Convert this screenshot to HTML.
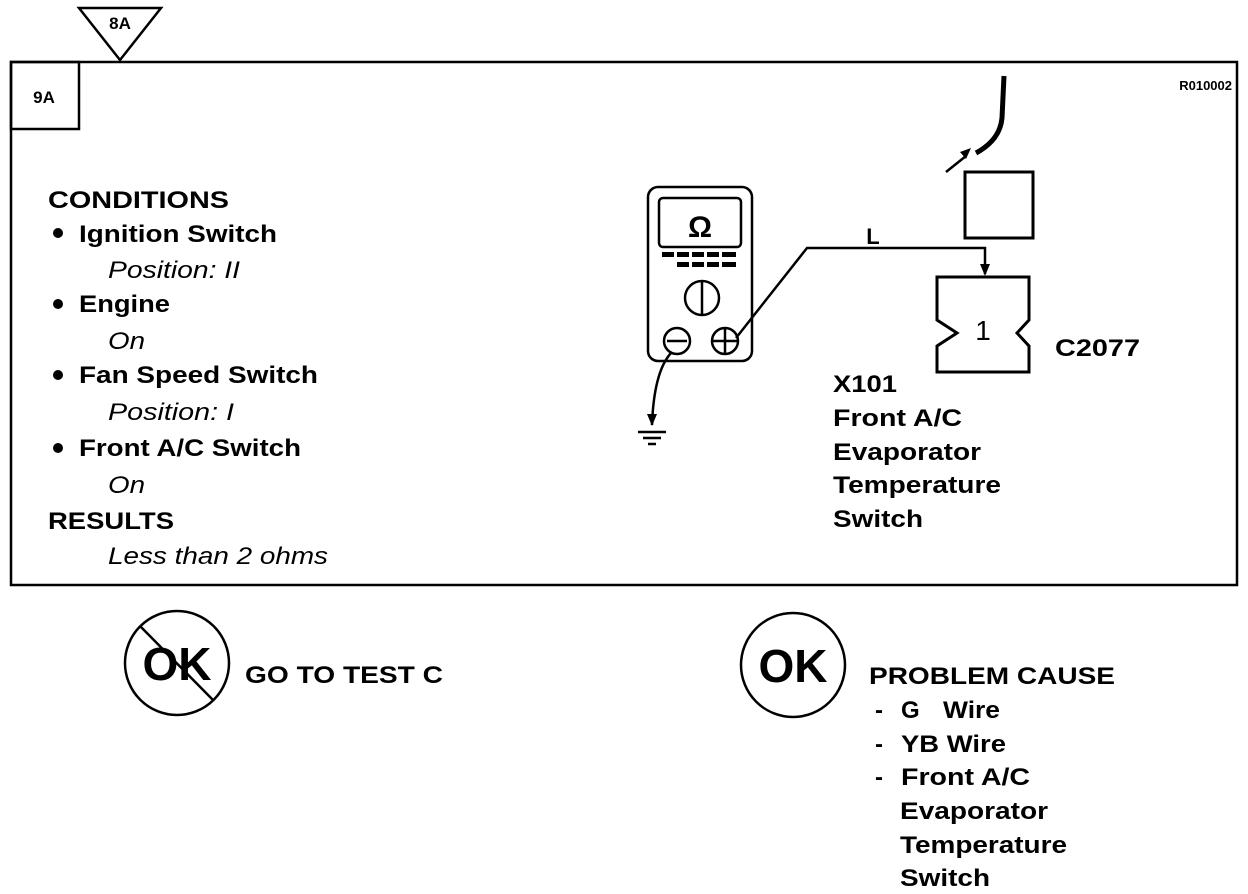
<!DOCTYPE html>
<html><head><style>body{margin:0;background:#fff}svg{display:block}text{font-family:"Liberation Sans",Arial,sans-serif;fill:#000}.b{font-weight:bold}.i{font-style:italic;font-weight:normal}</style></head><body>
<svg width="1248" height="894" viewBox="0 0 1248 894" xmlns="http://www.w3.org/2000/svg">
<g fill="none" stroke="#000" stroke-width="2.5">
<rect x="11" y="62" width="1226" height="523"/>
<rect x="11" y="62" width="68" height="67"/>
<polygon points="79,8 161,8 120,60" fill="#fff"/>
<rect x="648" y="187" width="104" height="174" rx="10"/>
<rect x="659" y="198" width="82" height="49" rx="4"/>
<circle cx="702" cy="298" r="17"/><line x1="702" y1="282" x2="702" y2="314"/>
<circle cx="677" cy="341" r="13"/><line x1="667" y1="341" x2="687" y2="341"/>
<circle cx="725" cy="341" r="13"/><line x1="712" y1="341" x2="738" y2="341"/><line x1="725" y1="328" x2="725" y2="354"/>
<path d="M736,338 L807,248 L985,248 L985,274"/>
<path d="M672,352 Q654,370 652,425"/>
<line x1="638" y1="432" x2="666" y2="432"/><line x1="643" y1="438" x2="661" y2="438"/><line x1="648" y1="444" x2="656" y2="444"/>
<path d="M937,277 L1029,277 L1029,320 L1017,333 L1029,346 L1029,372 L937,372 L937,346 L957,333 L937,320 Z" stroke-width="3"/>
<rect x="965" y="172" width="68" height="66" stroke-width="3"/>
<path d="M1004,76 L1002,118 Q1000,140 976,153" stroke-width="5"/>
<line x1="946" y1="172" x2="966" y2="156"/>
<circle cx="177" cy="663" r="52"/><line x1="140" y1="626" x2="213" y2="700"/>
<circle cx="793" cy="665" r="52"/>
</g>
<g fill="#000">
<polygon points="960,152 971,148 966,159"/>
<polygon points="980,264 990,264 985,276"/>
<polygon points="647,414 657,414 652,426"/>
<rect x="662" y="252" width="12" height="5"/><rect x="677" y="252" width="12" height="5"/><rect x="692" y="252" width="12" height="5"/><rect x="707" y="252" width="12" height="5"/><rect x="722" y="252" width="14" height="5"/>
<rect x="677" y="262" width="12" height="5"/><rect x="692" y="262" width="12" height="5"/><rect x="707" y="262" width="12" height="5"/><rect x="722" y="262" width="14" height="5"/>
<circle cx="58" cy="233" r="5"/><circle cx="58" cy="304" r="5"/><circle cx="58" cy="375" r="5"/><circle cx="58" cy="448" r="5"/>
</g>
<text class="b" x="120" y="29" font-size="17" text-anchor="middle">8A</text>
<text class="b" x="44" y="103" font-size="17" text-anchor="middle">9A</text>
<text class="b" x="1232" y="90" font-size="13" text-anchor="end">R010002</text>
<text class="b" x="700" y="237" font-size="30" text-anchor="middle">Ω</text>
<text class="b" x="873" y="244" font-size="22" text-anchor="middle">L</text>
<text x="983" y="340" font-size="28" text-anchor="middle">1</text>
<g font-size="24" lengthAdjust="spacingAndGlyphs">
<text class="b" x="1055" y="356" textLength="85" lengthAdjust="spacingAndGlyphs">C2077</text>
<text class="b" x="833" y="392" textLength="64" lengthAdjust="spacingAndGlyphs">X101</text>
<text class="b" x="833" y="426" textLength="129" lengthAdjust="spacingAndGlyphs">Front A/C</text>
<text class="b" x="833" y="460" textLength="148" lengthAdjust="spacingAndGlyphs">Evaporator</text>
<text class="b" x="833" y="493" textLength="168" lengthAdjust="spacingAndGlyphs">Temperature</text>
<text class="b" x="833" y="527" textLength="90" lengthAdjust="spacingAndGlyphs">Switch</text>
<text class="b" x="48" y="208" textLength="181" lengthAdjust="spacingAndGlyphs">CONDITIONS</text>
<text class="b" x="79" y="242" textLength="198" lengthAdjust="spacingAndGlyphs">Ignition Switch</text>
<text class="i" x="108" y="278" textLength="132" lengthAdjust="spacingAndGlyphs">Position: II</text>
<text class="b" x="79" y="312" textLength="91" lengthAdjust="spacingAndGlyphs">Engine</text>
<text class="i" x="108" y="349" textLength="37" lengthAdjust="spacingAndGlyphs">On</text>
<text class="b" x="79" y="383" textLength="239" lengthAdjust="spacingAndGlyphs">Fan Speed Switch</text>
<text class="i" x="108" y="420" textLength="126" lengthAdjust="spacingAndGlyphs">Position: I</text>
<text class="b" x="79" y="456" textLength="222" lengthAdjust="spacingAndGlyphs">Front A/C Switch</text>
<text class="i" x="108" y="493" textLength="37" lengthAdjust="spacingAndGlyphs">On</text>
<text class="b" x="48" y="529" textLength="126" lengthAdjust="spacingAndGlyphs">RESULTS</text>
<text class="i" x="108" y="564" textLength="220" lengthAdjust="spacingAndGlyphs">Less than 2 ohms</text>
<text class="b" x="245" y="683" textLength="198" lengthAdjust="spacingAndGlyphs">GO TO TEST C</text>
<text class="b" x="869" y="684" textLength="246" lengthAdjust="spacingAndGlyphs">PROBLEM CAUSE</text>
<text class="b" x="875" y="718">-</text><text class="b" x="901" y="718">G</text><text class="b" x="943" y="718" textLength="57" lengthAdjust="spacingAndGlyphs">Wire</text>
<text class="b" x="875" y="752">-</text><text class="b" x="901" y="752" textLength="105" lengthAdjust="spacingAndGlyphs">YB Wire</text>
<text class="b" x="875" y="785">-</text><text class="b" x="901" y="785" textLength="129" lengthAdjust="spacingAndGlyphs">Front A/C</text>
<text class="b" x="900" y="819" textLength="148" lengthAdjust="spacingAndGlyphs">Evaporator</text>
<text class="b" x="900" y="853" textLength="167" lengthAdjust="spacingAndGlyphs">Temperature</text>
<text class="b" x="900" y="886" textLength="90" lengthAdjust="spacingAndGlyphs">Switch</text>
</g>
<text class="b" x="177" y="680" font-size="46" text-anchor="middle">OK</text>
<text class="b" x="793" y="682" font-size="46" text-anchor="middle">OK</text>
</svg>
</body></html>
